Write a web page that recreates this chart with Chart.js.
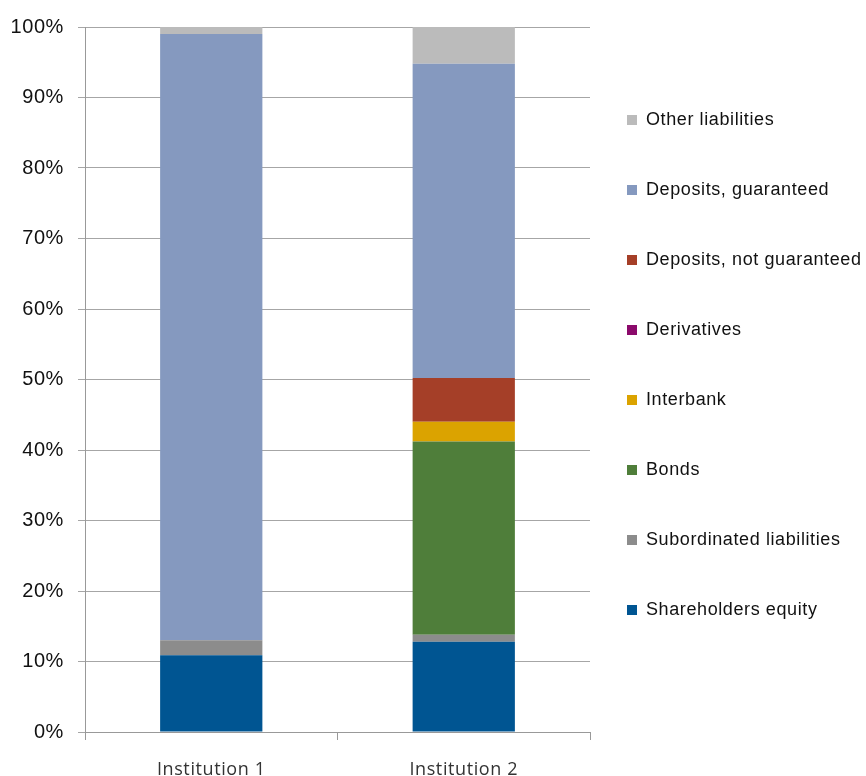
<!DOCTYPE html>
<html>
<head>
<meta charset="utf-8">
<script src="https://cdn.jsdelivr.net/npm/chart.js@4.4.1/dist/chart.umd.min.js"></script>
<style>
  html, body { margin: 0; padding: 0; background: #fff; }
  #wrap { width: 866px; height: 776px; }
</style>
</head>
<body>
<div id="wrap"><canvas id="LiabilitiesChart" width="866" height="776"></canvas></div>
<script>
// categories
var Institutions = ["Institution 1", "Institution 2"];

// share of total liabilities, in %, bottom of the stack first
var ShareholdersEquity     = [10.9, 12.8];
var SubordinatedLiab       = [2.1, 1.0];
var Bonds                  = [0, 27.4];
var Interbank              = [0, 2.8];
var Derivatives            = [0, 0];
var DepositsNotGuaranteed  = [0, 6.2];
var DepositsGuaranteed     = [86.0, 44.6];
var OtherLiabilities       = [1.0, 5.2];

var SeriesNames = ["Shareholders equity", "Subordinated liabilities", "Bonds", "Interbank",
                   "Derivatives", "Deposits, not guaranteed", "Deposits, guaranteed", "Other liabilities"];
var SeriesValues = [ShareholdersEquity, SubordinatedLiab, Bonds, Interbank,
                    Derivatives, DepositsNotGuaranteed, DepositsGuaranteed, OtherLiabilities];

var Colours = ['#005592', '#8c8c8c', '#4f7e3a', '#dba300', '#8b0a6b', '#a53f28', '#8599bf', '#bbbbbb'];

var datasets = [];
for (var i = 0; i < SeriesNames.length; i++) {
    datasets.push({
        label: SeriesNames[i],
        data: SeriesValues[i],
        backgroundColor: Colours[i],
        borderWidth: 0
    });
}

// Excel style text is a little wider spaced
var spacing = {
    id: 'spacing',
    beforeUpdate: function (chart) { chart.ctx.letterSpacing = '0.6px'; },
    beforeDraw: function (chart) { chart.ctx.letterSpacing = '0.6px'; }
};

var canvas = document.getElementById("LiabilitiesChart").getContext('2d');

var myChart = new Chart(canvas, {
    type: 'bar',
    data: {
        labels: Institutions,
        datasets: datasets
    },
    plugins: [spacing],
    options: {
        responsive: false,
        animation: false,
        layout: { padding: { top: 27, left: 0, right: 0, bottom: 0 } },
        datasets: {
            bar: { categoryPercentage: 1, barPercentage: 0.405 }
        },
        scales: {
            x: {
                stacked: true,
                afterFit: function (scale) { scale.height = 44; },
                border: { color: '#999', width: 1 },
                grid: { offset: true, drawOnChartArea: false, tickLength: 8, color: '#999' },
                ticks: {
                    padding: 19,
                    color: '#333',
                    font: { family: 'Open Sans', size: 18 }
                }
            },
            y: {
                stacked: true,
                min: 0,
                max: 100,
                afterFit: function (scale) { scale.width = 85; },
                border: { color: '#999', width: 1 },
                grid: { color: '#a6a6a6', tickLength: 7 },
                ticks: {
                    stepSize: 10,
                    padding: 14,
                    color: '#111',
                    font: { family: 'Liberation Sans', size: 20 },
                    callback: function (v) { return v + '%'; }
                }
            }
        },
        plugins: {
            tooltip: { enabled: false },
            legend: {
                display: true,
                position: 'right',
                align: 'start',
                reverse: true,
                maxWidth: 276,
                title: { display: true, text: '', padding: { top: 32.6, bottom: 0 } },
                labels: {
                    boxWidth: 10,
                    boxHeight: 10,
                    padding: 37,
                    color: '#111',
                    font: { family: 'Liberation Sans', size: 18, lineHeight: '33px' },
                    generateLabels: function (chart) {
                        var items = Chart.defaults.plugins.legend.labels.generateLabels(chart);
                        // one-line arrays so the row height follows the font lineHeight
                        items.forEach(function (it) { it.text = [it.text]; it.lineWidth = 0; });
                        return items;
                    }
                }
            }
        }
    }
});
</script>
</body>
</html>
